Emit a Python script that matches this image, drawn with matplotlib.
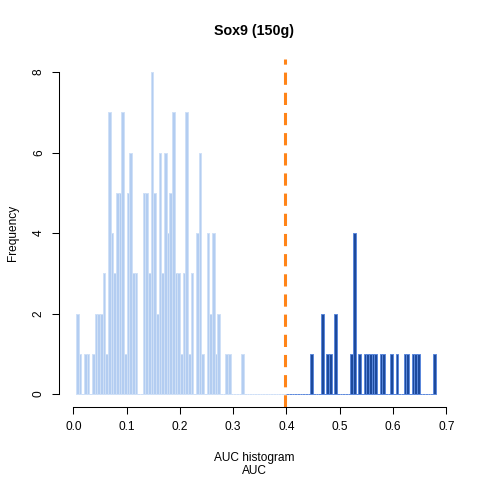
import matplotlib
matplotlib.use("Agg")
import matplotlib.pyplot as plt
import numpy as np

plt.rcParams['font.family'] = ['Liberation Sans', 'DejaVu Sans']

bin_width = 0.005

# Light-blue histogram: bins starting at 0.005, counts per 0.005-wide bin up to 0.40
light_start = 0.005
light_counts = [2, 1, 0, 1, 1, 0, 1, 2, 2, 2,
                3, 1, 7, 4, 3, 5, 5, 7, 1, 5,
                6, 3, 3, 0, 0, 5, 5, 3, 8, 5,
                2, 6, 3, 6, 4, 5, 7, 3, 3, 1,
                3, 7, 1, 3, 0, 4, 6, 1, 0, 4,
                2, 4, 1, 2, 0, 0, 1, 1, 0, 0,
                0, 0, 1, 0, 0, 0, 0, 0, 0, 0,
                0, 0, 0, 0, 0, 0, 0, 0, 0]

# Dark-blue histogram: bins starting at 0.40 up to 0.68
dark_start = 0.40
dark_counts = [0, 0, 0, 0, 0, 0, 0, 0, 0, 1,
               0, 0, 0, 2, 0, 1, 1, 0, 2, 0,
               0, 0, 0, 0, 1, 4, 0, 1, 0, 1,
               1, 1, 1, 1, 0, 1, 1, 0, 0, 1,
               0, 1, 0, 0, 1, 1, 0, 1, 1, 1,
               0, 0, 0, 0, 0, 1]

threshold = 0.398
title = "Sox9 (150g)"
xlabel_lines = ["AUC histogram", "AUC"]
ylabel = "Frequency"
xticks = [0.0, 0.1, 0.2, 0.3, 0.4, 0.5, 0.6, 0.7]
yticks = [0, 2, 4, 6, 8]

fig = plt.figure(figsize=(4.8, 4.8), dpi=100)
ax = fig.add_axes([0.1225, 0.1521, 0.8154, 0.7248])

light_left = light_start + bin_width * np.arange(len(light_counts))
dark_left = dark_start + bin_width * np.arange(len(dark_counts))

ax.bar(light_left, light_counts, width=bin_width, align='edge',
       color='#B3CDF1', edgecolor='#CFE0F7', linewidth=0.7, zorder=2)
ax.bar(dark_left, dark_counts, width=bin_width, align='edge',
       color='#1D4A9C', edgecolor='#5B88DC', linewidth=0.7, zorder=2)

ax.axvline(threshold, color='#FF8418', linewidth=2.2, linestyle=(0, (4, 2.6)), zorder=3)

ax.set_xlim(-0.0272, 0.7072)
ax.set_ylim(-0.32, 8.32)

for s in ['top', 'right']:
    ax.spines[s].set_visible(False)
ax.spines['left'].set_bounds(0, 8)
ax.spines['bottom'].set_bounds(0, 0.7)
for s in ['left', 'bottom']:
    ax.spines[s].set_linewidth(0.75)
    ax.spines[s].set_color('black')

ax.set_xticks(xticks)
ax.set_xticklabels([f"{t:.1f}" for t in xticks])
ax.set_yticks(yticks)
ax.set_yticklabels([str(t) for t in yticks], rotation=90, va='center')
ax.tick_params(axis='both', direction='out', length=5, width=0.75, labelsize=8.6, pad=5)

ax.set_title(title, fontsize=10.3, fontweight='bold', pad=17)
xc = 0.1225 + 0.8154 / 2
fig.text(xc, 1 - 458 / 480, xlabel_lines[0], fontsize=8.6, ha='center', va='center')
fig.text(xc, 1 - 471 / 480, xlabel_lines[1], fontsize=8.6, ha='center', va='center')
ax.set_ylabel(ylabel, fontsize=8.6, labelpad=10)

fig.savefig("out.png", dpi=100)
